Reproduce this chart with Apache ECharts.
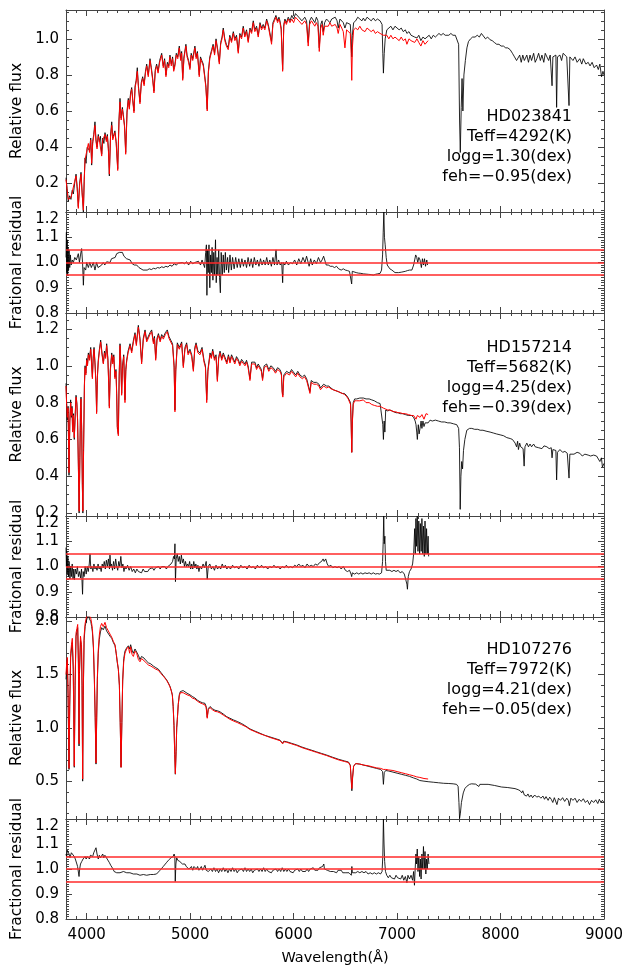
<!DOCTYPE html>
<html>
<head>
<meta charset="utf-8">
<script src="https://cdn.jsdelivr.net/npm/echarts@6/dist/echarts.min.js"></script>
<style>
html, body { margin: 0; padding: 0; background: #fff; }
#chart { width: 627px; height: 968px; }
</style>
</head>
<body>
<div id="chart"></div>
<script>
// ---- data: [wavelength (A), value] ----
// HD023841
const obs1 = [[3800,0.23],[3811,0.17],[3822,0.10],[3835,0.13],[3848,0.11],[3860,0.16],[3871,0.14],[3884,0.20],[3897,0.25],[3908,0.18],[3919,0.07],[3932,0.20],[3945,0.26],[3956,0.15],[3968,0.04],[3976,0.22],[3984,0.34],[3994,0.31],[4005,0.40],[4016,0.41],[4027,0.38],[4039,0.45],[4048,0.30],[4058,0.43],[4068,0.47],[4080,0.54],[4090,0.44],[4100,0.40],[4112,0.47],[4122,0.43],[4133,0.46],[4145,0.36],[4155,0.45],[4166,0.42],[4177,0.48],[4190,0.44],[4200,0.47],[4210,0.39],[4219,0.24],[4230,0.46],[4242,0.54],[4252,0.45],[4262,0.47],[4273,0.49],[4285,0.43],[4300,0.28],[4312,0.55],[4322,0.67],[4333,0.56],[4345,0.62],[4354,0.58],[4366,0.52],[4377,0.37],[4390,0.60],[4402,0.67],[4412,0.62],[4424,0.70],[4435,0.73],[4446,0.66],[4457,0.60],[4468,0.74],[4478,0.77],[4489,0.84],[4500,0.74],[4515,0.65],[4528,0.76],[4541,0.79],[4555,0.75],[4568,0.82],[4580,0.86],[4595,0.80],[4612,0.89],[4625,0.84],[4638,0.78],[4650,0.71],[4663,0.83],[4676,0.86],[4690,0.82],[4705,0.88],[4725,0.92],[4740,0.85],[4753,0.89],[4766,0.80],[4780,0.87],[4793,0.85],[4805,0.91],[4818,0.86],[4830,0.90],[4841,0.83],[4853,0.86],[4866,0.92],[4880,0.90],[4895,0.96],[4908,0.89],[4918,0.93],[4928,0.78],[4940,0.90],[4959,0.97],[4970,0.91],[4985,0.88],[4998,0.84],[5010,0.92],[5025,0.89],[5046,0.96],[5058,0.90],[5070,0.93],[5088,0.80],[5100,0.90],[5113,0.88],[5127,0.86],[5140,0.80],[5152,0.74],[5165,0.61],[5176,0.82],[5190,0.90],[5208,0.94],[5222,0.97],[5236,0.92],[5250,1.00],[5264,0.95],[5282,0.87],[5295,0.98],[5308,1.01],[5320,1.06],[5335,1.00],[5350,0.97],[5368,0.95],[5383,1.02],[5400,0.99],[5417,1.04],[5432,1.00],[5448,1.02],[5465,0.93],[5480,1.03],[5497,1.01],[5513,1.07],[5528,1.02],[5545,1.05],[5561,0.99],[5578,1.06],[5594,1.04],[5610,1.10],[5625,1.05],[5642,1.07],[5658,1.02],[5675,1.09],[5690,1.06],[5706,1.08],[5722,1.06],[5739,1.11],[5755,1.08],[5770,1.07],[5787,0.985],[5800,1.09],[5815,1.11],[5829,1.13],[5845,1.10],[5858,1.12],[5868,1.10],[5880,1.06],[5894,0.83],[5905,1.08],[5916,1.11],[5930,1.09],[5948,1.12],[5965,1.10],[5982,1.13],[6000,1.11],[6018,1.14],[6035,1.15],[6050,1.12],[6065,1.13],[6080,1.10],[6093,1.09],[6108,1.12],[6125,1.10],[6141,0.98],[6155,1.10],[6172,1.12],[6190,1.11],[6205,1.09],[6220,1.12],[6235,1.10],[6248,0.95],[6262,1.08],[6275,1.10],[6286,1.04],[6300,1.09],[6318,1.11],[6335,1.10],[6351,1.09],[6368,1.11],[6385,1.10],[6402,1.12],[6420,1.10],[6431,1.06],[6448,1.11],[6465,1.10],[6480,1.09],[6496,1.06],[6512,1.09],[6530,1.10],[6548,1.08],[6556,1.00],[6562,0.90],[6568,1.02],[6580,1.09],[6600,1.10],[6620,1.12],[6640,1.11],[6660,1.10],[6674,1.115],[6690,1.10],[6710,1.12],[6730,1.11],[6750,1.10],[6771,1.115],[6790,1.10],[6810,1.11],[6836,1.10],[6855,1.08],[6862,0.92],[6868,0.81],[6876,0.92],[6885,1.00],[6901,1.05],[6920,1.06],[6940,1.07],[6960,1.05],[6980,1.07],[6998,1.07],[7020,1.05],[7040,1.06],[7060,1.04],[7080,1.05],[7095,1.03],[7115,1.04],[7135,1.02],[7150,1.03],[7170,1.01],[7192,1.005],[7210,1.02],[7230,0.99],[7250,1.01],[7270,1.00],[7289,1.01],[7310,1.02],[7330,1.00],[7350,1.02],[7370,1.01],[7386,1.02],[7405,1.03],[7425,1.02],[7445,1.03],[7465,1.02],[7483,1.03],[7500,1.02],[7520,1.03],[7540,1.02],[7563,1.02],[7580,1.01],[7595,0.97],[7604,0.55],[7611,0.37],[7620,0.62],[7628,0.78],[7636,0.60],[7646,0.80],[7660,0.88],[7675,0.95],[7690,0.985],[7710,1.00],[7730,1.01],[7754,1.01],[7775,1.02],[7795,1.01],[7815,1.03],[7834,1.02],[7855,1.00],[7875,1.01],[7899,0.995],[7920,0.99],[7940,0.98],[7963,0.97],[7985,0.97],[8005,0.96],[8028,0.96],[8050,0.95],[8070,0.95],[8093,0.94],[8115,0.92],[8135,0.90],[8155,0.88],[8173,0.88],[8185,0.91],[8200,0.87],[8215,0.91],[8230,0.88],[8254,0.91],[8270,0.87],[8285,0.91],[8300,0.88],[8320,0.92],[8335,0.87],[8351,0.89],[8368,0.92],[8385,0.88],[8400,0.91],[8418,0.87],[8432,0.92],[8448,0.91],[8465,0.88],[8480,0.91],[8492,0.90],[8498,0.74],[8506,0.90],[8520,0.89],[8535,0.91],[8542,0.62],[8550,0.90],[8574,0.91],[8590,0.88],[8605,0.92],[8622,0.92],[8640,0.90],[8655,0.91],[8662,0.63],[8670,0.90],[8686,0.91],[8700,0.88],[8720,0.90],[8740,0.87],[8766,0.89],[8785,0.86],[8800,0.89],[8825,0.86],[8847,0.87],[8865,0.85],[8885,0.87],[8905,0.84],[8928,0.855],[8945,0.83],[8960,0.86],[8976,0.79],[8990,0.82],[9000,0.80]];
const mod1 = [[3800,0.22],[3811,0.16],[3822,0.11],[3835,0.12],[3848,0.12],[3860,0.15],[3871,0.15],[3884,0.21],[3897,0.24],[3908,0.17],[3919,0.06],[3932,0.19],[3945,0.25],[3956,0.14],[3968,0.05],[3976,0.21],[3984,0.33],[3994,0.32],[4005,0.39],[4016,0.42],[4027,0.37],[4039,0.44],[4048,0.31],[4058,0.42],[4068,0.46],[4080,0.52],[4090,0.43],[4100,0.39],[4112,0.46],[4122,0.44],[4133,0.45],[4145,0.35],[4155,0.44],[4166,0.43],[4177,0.47],[4190,0.43],[4200,0.46],[4210,0.38],[4219,0.25],[4230,0.45],[4242,0.52],[4252,0.44],[4262,0.46],[4273,0.48],[4285,0.42],[4300,0.27],[4312,0.54],[4322,0.65],[4333,0.55],[4345,0.61],[4354,0.57],[4366,0.51],[4377,0.36],[4390,0.59],[4402,0.66],[4412,0.61],[4424,0.69],[4435,0.72],[4446,0.65],[4457,0.59],[4468,0.73],[4478,0.76],[4489,0.82],[4500,0.73],[4515,0.64],[4528,0.75],[4541,0.78],[4555,0.74],[4568,0.81],[4580,0.85],[4595,0.79],[4612,0.88],[4625,0.83],[4638,0.77],[4650,0.70],[4663,0.82],[4676,0.85],[4690,0.81],[4705,0.87],[4725,0.91],[4740,0.84],[4753,0.88],[4766,0.79],[4780,0.86],[4793,0.84],[4805,0.90],[4818,0.85],[4830,0.89],[4841,0.82],[4853,0.85],[4866,0.91],[4880,0.89],[4895,0.95],[4908,0.88],[4918,0.92],[4928,0.77],[4940,0.89],[4959,0.96],[4970,0.90],[4985,0.87],[4998,0.83],[5010,0.91],[5025,0.88],[5046,0.95],[5058,0.89],[5070,0.92],[5088,0.79],[5100,0.89],[5113,0.87],[5127,0.85],[5140,0.79],[5152,0.73],[5165,0.60],[5176,0.81],[5190,0.89],[5208,0.93],[5222,0.96],[5236,0.91],[5250,0.99],[5264,0.94],[5282,0.86],[5295,0.97],[5308,1.00],[5320,1.05],[5335,0.99],[5350,0.96],[5368,0.94],[5383,1.01],[5400,0.98],[5417,1.03],[5432,0.99],[5448,1.01],[5465,0.92],[5480,1.02],[5497,1.00],[5513,1.06],[5528,1.01],[5545,1.04],[5561,0.98],[5578,1.05],[5594,1.03],[5610,1.09],[5625,1.04],[5642,1.06],[5658,1.01],[5675,1.08],[5690,1.05],[5706,1.07],[5722,1.05],[5739,1.10],[5755,1.07],[5770,1.06],[5787,0.97],[5800,1.08],[5815,1.10],[5829,1.12],[5845,1.09],[5858,1.11],[5868,1.09],[5880,1.05],[5894,0.82],[5905,1.07],[5916,1.10],[5930,1.08],[5948,1.11],[5965,1.09],[5982,1.11],[6000,1.09],[6018,1.12],[6035,1.13],[6050,1.10],[6065,1.11],[6080,1.08],[6093,1.07],[6108,1.10],[6125,1.08],[6141,0.96],[6155,1.08],[6172,1.10],[6190,1.09],[6205,1.07],[6220,1.09],[6235,1.07],[6248,0.93],[6262,1.06],[6275,1.08],[6286,1.02],[6300,1.07],[6318,1.08],[6335,1.07],[6351,1.09],[6368,1.07],[6385,1.06],[6402,1.08],[6420,1.06],[6431,1.03],[6448,1.08],[6465,1.06],[6480,1.04],[6496,0.95],[6512,1.05],[6530,1.06],[6548,1.03],[6556,0.92],[6562,0.77],[6568,0.95],[6580,1.05],[6600,1.06],[6620,1.05],[6640,1.07],[6660,1.05],[6674,1.06],[6690,1.04],[6710,1.06],[6730,1.05],[6750,1.04],[6771,1.05],[6790,1.03],[6810,1.04],[6836,1.03],[6855,1.02],[6868,1.02],[6885,1.01],[6901,1.02],[6920,1.00],[6940,1.02],[6960,1.00],[6980,1.01],[6998,1.01],[7020,0.99],[7040,1.01],[7060,0.99],[7080,1.00],[7095,0.97],[7115,1.00],[7135,0.99],[7150,1.00],[7170,0.98],[7192,1.00],[7210,0.98],[7230,0.96],[7250,0.99],[7270,0.97],[7289,0.98],[7300,0.99]];
const res1 = [[3800,1.02],[3804,1.12],[3808,0.96],[3812,1.09],[3816,0.95],[3820,1.06],[3825,0.97],[3830,1.05],[3836,0.98],[3842,1.03],[3850,0.99],[3860,1.01],[3871,1.00],[3885,1.02],[3900,1.01],[3919,1.035],[3930,1.0],[3940,1.03],[3951,1.055],[3960,1.0],[3968,0.91],[3975,0.98],[3990,0.97],[4000,1.00],[4016,0.98],[4030,1.0],[4045,0.98],[4064,1.0],[4080,0.97],[4095,1.0],[4110,0.98],[4129,0.977],[4145,0.99],[4160,1.0],[4175,0.99],[4193,1.003],[4210,1.01],[4225,1.0],[4240,1.015],[4258,1.017],[4275,1.02],[4290,1.035],[4305,1.03],[4316,1.04],[4330,1.035],[4345,1.04],[4360,1.025],[4371,1.03],[4385,1.015],[4400,1.01],[4420,1.01],[4440,0.995],[4460,0.99],[4483,0.99],[4505,0.98],[4525,0.975],[4545,0.97],[4564,0.973],[4585,0.97],[4605,0.975],[4625,0.972],[4645,0.977],[4665,0.975],[4685,0.98],[4705,0.978],[4725,0.983],[4745,0.98],[4765,0.985],[4785,0.982],[4805,0.99],[4825,0.985],[4845,0.995],[4865,0.99],[4886,0.997],[4905,0.99],[4925,1.0],[4945,0.995],[4966,1.003],[4985,0.99],[5005,1.005],[5025,0.995],[5045,1.0],[5063,0.997],[5080,1.005],[5100,0.99],[5115,1.01],[5127,1.01],[5140,0.98],[5150,1.04],[5157,1.07],[5162,0.87],[5168,1.05],[5175,0.96],[5182,1.07],[5190,0.90],[5198,1.03],[5205,0.96],[5212,1.06],[5220,0.93],[5228,1.04],[5236,0.95],[5245,1.09],[5252,0.92],[5260,1.02],[5268,0.95],[5276,1.05],[5284,0.94],[5292,0.88],[5300,1.04],[5310,0.95],[5320,1.03],[5330,0.96],[5340,1.04],[5350,0.97],[5362,1.02],[5372,0.96],[5385,1.03],[5398,0.97],[5410,1.02],[5425,0.975],[5440,1.02],[5455,0.98],[5470,1.015],[5485,0.98],[5500,1.015],[5515,0.985],[5530,1.01],[5545,0.98],[5560,1.02],[5575,0.985],[5590,1.015],[5605,0.98],[5620,1.02],[5635,0.99],[5650,1.01],[5665,0.985],[5680,1.015],[5695,0.99],[5710,1.01],[5725,0.99],[5740,1.02],[5755,0.99],[5770,1.01],[5785,0.985],[5800,1.02],[5815,0.99],[5830,1.05],[5840,0.99],[5855,1.01],[5870,0.99],[5885,1.0],[5894,0.92],[5900,1.0],[5915,0.99],[5930,1.005],[5950,0.99],[5970,1.0],[5990,0.995],[6010,1.01],[6030,0.99],[6050,1.015],[6070,0.995],[6090,1.02],[6110,1.0],[6125,1.025],[6141,1.03],[6150,0.985],[6165,1.015],[6180,0.99],[6200,1.01],[6220,0.995],[6240,1.02],[6260,1.0],[6275,1.01],[6290,1.025],[6300,1.02],[6315,0.99],[6335,0.99],[6355,0.985],[6375,0.985],[6395,0.98],[6415,0.985],[6435,0.975],[6460,0.97],[6480,0.975],[6500,0.97],[6520,0.968],[6540,0.965],[6555,0.97],[6561,0.915],[6567,0.965],[6585,0.962],[6605,0.96],[6625,0.958],[6650,0.957],[6674,0.955],[6700,0.954],[6725,0.953],[6750,0.952],[6770,0.95],[6790,0.953],[6810,0.955],[6836,0.957],[6850,0.97],[6860,1.03],[6866,1.12],[6872,1.2],[6878,1.1],[6885,1.07],[6895,1.02],[6905,0.99],[6915,0.985],[6930,0.975],[6950,0.97],[6965,0.965],[6980,0.96],[6997,0.957],[7015,0.96],[7030,0.958],[7045,0.962],[7062,0.963],[7080,0.965],[7100,0.968],[7120,0.97],[7143,0.97],[7160,0.99],[7170,1.01],[7180,1.03],[7190,1.02],[7200,1.0],[7210,1.02],[7222,1.01],[7235,0.98],[7245,1.015],[7255,0.99],[7265,1.015],[7275,0.985],[7287,1.01],[7295,0.99]];

// HD157214
const obs2 = [[3800,0.905],[3806,0.80],[3813,0.705],[3820,0.78],[3829,0.405],[3837,0.70],[3845,0.815],[3852,0.72],[3858,0.78],[3864,0.65],[3872,0.74],[3880,0.60],[3890,0.75],[3897,0.84],[3905,0.80],[3912,0.70],[3920,0.45],[3927,0.20],[3934,0.50],[3940,0.78],[3945,0.83],[3952,0.65],[3958,0.35],[3963,0.20],[3970,0.55],[3978,0.90],[3984,1.0],[3992,0.96],[4000,1.04],[4008,1.01],[4016,1.07],[4027,1.04],[4039,1.10],[4047,1.02],[4055,0.94],[4063,1.05],[4071,1.10],[4080,1.02],[4090,0.90],[4096,0.75],[4104,0.95],[4112,1.03],[4123,1.09],[4135,1.14],[4148,1.07],[4161,1.015],[4172,1.08],[4183,1.05],[4193,1.12],[4205,1.04],[4212,0.92],[4219,0.78],[4228,0.98],[4242,1.07],[4252,1.02],[4262,1.06],[4273,0.94],[4283,0.98],[4290,0.85],[4296,0.67],[4306,0.63],[4314,0.95],[4322,1.12],[4330,1.02],[4338,0.85],[4346,1.00],[4358,1.06],[4370,0.815],[4378,0.98],[4386,1.03],[4400,1.08],[4419,1.12],[4435,1.08],[4452,1.14],[4467,1.18],[4480,1.12],[4499,1.22],[4515,1.15],[4531,1.02],[4547,1.15],[4564,1.195],[4580,1.14],[4596,1.15],[4612,1.18],[4628,1.195],[4645,1.13],[4655,1.16],[4667,1.04],[4680,1.15],[4693,1.175],[4710,1.14],[4725,1.17],[4741,1.155],[4760,1.18],[4779,1.195],[4795,1.16],[4812,1.14],[4830,1.12],[4845,1.00],[4853,0.76],[4861,0.98],[4876,1.125],[4895,1.10],[4918,1.13],[4934,1.0],[4950,1.10],[4966,1.125],[4980,1.07],[4998,1.09],[5015,1.06],[5031,0.98],[5045,1.10],[5057,1.125],[5075,1.08],[5095,1.07],[5115,1.10],[5134,1.03],[5148,1.00],[5160,0.815],[5172,0.98],[5192,1.07],[5205,1.05],[5218,1.09],[5235,1.04],[5250,1.06],[5263,0.925],[5276,1.05],[5289,1.08],[5305,1.04],[5320,1.07],[5337,1.06],[5355,1.02],[5370,1.06],[5385,1.025],[5400,1.06],[5417,1.05],[5432,1.02],[5448,1.05],[5465,1.035],[5480,1.01],[5497,1.035],[5513,1.03],[5530,1.01],[5545,1.03],[5560,1.00],[5578,0.93],[5594,1.02],[5610,1.01],[5626,1.02],[5642,0.99],[5658,1.01],[5674,1.0],[5688,0.98],[5700,0.93],[5715,1.00],[5739,1.01],[5760,0.98],[5780,1.00],[5803,0.99],[5825,0.97],[5845,0.99],[5868,0.98],[5882,0.96],[5890,0.86],[5896,0.84],[5905,0.95],[5932,0.97],[5960,0.96],[5980,0.98],[5997,0.97],[6020,0.95],[6040,0.97],[6061,0.95],[6085,0.94],[6105,0.95],[6126,0.93],[6145,0.92],[6158,0.86],[6170,0.92],[6195,0.91],[6222,0.91],[6245,0.90],[6260,0.88],[6270,0.88],[6290,0.90],[6319,0.89],[6340,0.89],[6360,0.88],[6383,0.87],[6400,0.88],[6431,0.86],[6448,0.87],[6470,0.85],[6490,0.85],[6510,0.84],[6528,0.825],[6550,0.80],[6556,0.70],[6562,0.53],[6568,0.70],[6576,0.80],[6590,0.82],[6610,0.82],[6640,0.825],[6674,0.825],[6700,0.82],[6730,0.82],[6755,0.815],[6780,0.81],[6810,0.80],[6836,0.795],[6855,0.79],[6862,0.68],[6868,0.60],[6875,0.70],[6882,0.64],[6890,0.76],[6910,0.755],[6930,0.76],[6948,0.75],[6970,0.75],[6990,0.745],[7010,0.745],[7030,0.74],[7055,0.74],[7080,0.735],[7110,0.73],[7140,0.73],[7160,0.72],[7175,0.70],[7183,0.68],[7190,0.64],[7196,0.60],[7205,0.68],[7213,0.63],[7222,0.66],[7232,0.70],[7240,0.66],[7250,0.70],[7260,0.67],[7271,0.69],[7285,0.70],[7300,0.69],[7319,0.705],[7340,0.70],[7370,0.705],[7400,0.70],[7430,0.695],[7460,0.695],[7490,0.69],[7513,0.69],[7545,0.685],[7577,0.68],[7595,0.66],[7603,0.555],[7610,0.22],[7617,0.40],[7625,0.48],[7633,0.44],[7642,0.54],[7655,0.60],[7674,0.65],[7700,0.66],[7722,0.66],[7750,0.655],[7780,0.655],[7803,0.65],[7830,0.65],[7860,0.645],[7899,0.64],[7930,0.635],[7960,0.63],[7996,0.625],[8030,0.62],[8060,0.61],[8093,0.605],[8115,0.60],[8130,0.59],[8141,0.58],[8155,0.56],[8165,0.59],[8173,0.545],[8185,0.58],[8195,0.56],[8206,0.57],[8218,0.55],[8228,0.455],[8236,0.56],[8254,0.58],[8270,0.56],[8285,0.575],[8300,0.56],[8320,0.575],[8335,0.56],[8351,0.57],[8368,0.555],[8385,0.565],[8400,0.55],[8420,0.565],[8448,0.56],[8470,0.55],[8490,0.555],[8498,0.50],[8506,0.545],[8525,0.55],[8535,0.54],[8542,0.38],[8550,0.53],[8574,0.545],[8600,0.53],[8622,0.535],[8645,0.525],[8655,0.53],[8662,0.39],[8670,0.52],[8686,0.525],[8710,0.52],[8740,0.53],[8766,0.525],[8790,0.51],[8815,0.52],[8847,0.515],[8870,0.51],[8900,0.515],[8928,0.51],[8945,0.505],[8960,0.48],[8975,0.50],[8985,0.45],[9000,0.47]];
const mod2 = [[3800,0.89],[3806,0.79],[3813,0.72],[3820,0.77],[3829,0.42],[3837,0.69],[3845,0.80],[3852,0.73],[3858,0.77],[3864,0.64],[3872,0.73],[3880,0.61],[3890,0.74],[3897,0.83],[3905,0.79],[3912,0.71],[3920,0.44],[3927,0.21],[3934,0.49],[3940,0.77],[3945,0.82],[3952,0.64],[3958,0.36],[3963,0.21],[3970,0.54],[3978,0.89],[3984,0.99],[3992,0.95],[4000,1.03],[4008,1.00],[4016,1.06],[4027,1.03],[4039,1.09],[4047,1.01],[4055,0.93],[4063,1.04],[4071,1.09],[4080,1.01],[4090,0.89],[4096,0.74],[4104,0.94],[4112,1.02],[4123,1.08],[4135,1.13],[4148,1.06],[4161,1.01],[4172,1.07],[4183,1.04],[4193,1.11],[4205,1.03],[4212,0.91],[4219,0.77],[4228,0.97],[4242,1.06],[4252,1.01],[4262,1.05],[4273,0.93],[4283,0.97],[4290,0.84],[4296,0.66],[4306,0.62],[4314,0.94],[4322,1.11],[4330,1.01],[4338,0.84],[4346,0.99],[4358,1.05],[4370,0.80],[4378,0.97],[4386,1.02],[4400,1.07],[4419,1.11],[4435,1.07],[4452,1.13],[4467,1.17],[4480,1.11],[4499,1.21],[4515,1.14],[4531,1.01],[4547,1.14],[4564,1.185],[4580,1.13],[4596,1.14],[4612,1.17],[4628,1.185],[4645,1.12],[4655,1.15],[4667,1.03],[4680,1.14],[4693,1.165],[4710,1.13],[4725,1.16],[4741,1.145],[4760,1.17],[4779,1.185],[4795,1.15],[4812,1.13],[4830,1.11],[4845,0.99],[4853,0.75],[4861,0.97],[4876,1.115],[4895,1.09],[4918,1.12],[4934,0.99],[4950,1.09],[4966,1.115],[4980,1.06],[4998,1.08],[5015,1.05],[5031,0.97],[5045,1.09],[5057,1.115],[5075,1.07],[5095,1.06],[5115,1.09],[5134,1.02],[5148,0.99],[5160,0.80],[5172,0.97],[5192,1.06],[5205,1.04],[5218,1.08],[5235,1.03],[5250,1.05],[5263,0.915],[5276,1.04],[5289,1.07],[5305,1.03],[5320,1.06],[5337,1.05],[5355,1.01],[5370,1.05],[5385,1.015],[5400,1.05],[5417,1.04],[5432,1.01],[5448,1.04],[5465,1.025],[5480,1.00],[5497,1.025],[5513,1.02],[5530,1.00],[5545,1.02],[5560,0.99],[5578,0.92],[5594,1.01],[5610,1.00],[5626,1.01],[5642,0.98],[5658,1.00],[5674,0.99],[5688,0.97],[5700,0.92],[5715,0.99],[5739,1.00],[5760,0.97],[5780,0.99],[5803,0.98],[5825,0.96],[5845,0.98],[5868,0.97],[5882,0.95],[5890,0.85],[5896,0.83],[5905,0.94],[5932,0.96],[5960,0.95],[5980,0.97],[5997,0.96],[6020,0.94],[6040,0.96],[6061,0.94],[6085,0.93],[6105,0.94],[6126,0.92],[6145,0.91],[6158,0.85],[6170,0.91],[6195,0.90],[6222,0.90],[6245,0.89],[6260,0.87],[6270,0.87],[6290,0.89],[6319,0.88],[6340,0.885],[6360,0.875],[6383,0.87],[6400,0.875],[6431,0.86],[6448,0.865],[6470,0.85],[6490,0.845],[6510,0.835],[6528,0.82],[6550,0.79],[6556,0.69],[6562,0.53],[6568,0.69],[6576,0.79],[6590,0.81],[6610,0.81],[6640,0.81],[6674,0.815],[6700,0.80],[6730,0.80],[6755,0.79],[6780,0.785],[6810,0.78],[6836,0.78],[6855,0.775],[6868,0.77],[6890,0.765],[6910,0.76],[6930,0.76],[6948,0.755],[6970,0.75],[6990,0.75],[7010,0.745],[7030,0.745],[7055,0.74],[7080,0.74],[7110,0.735],[7140,0.73],[7160,0.73],[7175,0.72],[7183,0.71],[7196,0.73],[7205,0.74],[7222,0.72],[7240,0.735],[7260,0.71],[7280,0.74],[7300,0.735]];
const res2 = [[3800,1.075],[3804,1.0],[3808,1.06],[3812,0.97],[3818,1.04],[3824,0.96],[3830,1.02],[3838,0.95],[3845,1.0],[3852,0.96],[3860,1.01],[3868,0.95],[3875,0.99],[3882,0.948],[3890,0.99],[3900,0.97],[3910,1.0],[3920,0.96],[3930,0.98],[3940,0.955],[3950,0.99],[3960,0.89],[3966,0.98],[3975,0.96],[3985,1.0],[3995,0.97],[4005,1.0],[4015,0.98],[4025,1.01],[4032,1.05],[4040,0.99],[4050,1.0],[4060,0.98],[4070,1.01],[4080,0.99],[4090,1.0],[4100,0.985],[4110,1.01],[4120,0.99],[4130,1.0],[4140,0.98],[4150,1.01],[4160,0.995],[4170,1.02],[4180,0.99],[4190,1.025],[4200,1.0],[4210,1.03],[4220,0.99],[4225,1.045],[4232,1.0],[4240,1.01],[4250,0.985],[4260,1.02],[4270,0.99],[4280,1.03],[4290,1.0],[4300,0.985],[4310,1.02],[4320,1.0],[4330,1.04],[4340,0.995],[4350,1.01],[4360,0.98],[4370,1.0],[4380,0.99],[4395,1.005],[4410,0.985],[4425,1.0],[4440,0.98],[4455,0.99],[4470,0.975],[4485,0.99],[4500,0.98],[4515,0.985],[4530,0.975],[4545,0.99],[4560,0.98],[4575,0.985],[4590,0.98],[4605,0.99],[4620,0.985],[4635,0.995],[4650,0.985],[4665,0.995],[4680,0.99],[4695,1.0],[4710,0.99],[4725,1.0],[4740,0.995],[4755,1.0],[4770,0.99],[4785,1.0],[4800,0.995],[4815,1.01],[4830,1.02],[4840,1.04],[4848,1.03],[4853,1.09],[4858,0.94],[4865,1.03],[4875,1.05],[4885,1.02],[4895,1.04],[4905,1.01],[4915,1.045],[4925,1.015],[4935,1.03],[4945,1.0],[4955,1.02],[4965,1.0],[4975,1.01],[4985,1.0],[4995,1.02],[5005,0.99],[5015,1.01],[5025,0.99],[5035,1.02],[5045,0.995],[5055,1.01],[5065,0.99],[5075,1.005],[5085,0.98],[5095,1.0],[5110,0.99],[5125,1.01],[5140,0.995],[5155,1.02],[5165,0.95],[5175,1.0],[5190,1.01],[5205,0.99],[5220,1.0],[5235,0.985],[5250,1.005],[5265,0.99],[5280,1.0],[5295,0.99],[5310,1.01],[5325,0.995],[5340,1.005],[5355,0.99],[5370,1.0],[5390,0.99],[5410,1.005],[5430,0.995],[5450,1.0],[5470,0.99],[5490,1.005],[5510,0.995],[5530,1.0],[5550,0.99],[5570,1.005],[5590,0.995],[5610,1.0],[5630,0.99],[5650,1.005],[5670,0.995],[5690,1.005],[5710,0.995],[5730,1.0],[5750,0.99],[5770,1.0],[5790,0.995],[5810,1.005],[5830,0.995],[5850,1.0],[5870,0.99],[5890,1.0],[5910,0.995],[5930,1.005],[5950,0.995],[5970,1.0],[5990,0.995],[6010,1.005],[6030,1.0],[6050,1.01],[6070,1.0],[6090,1.005],[6110,0.995],[6130,1.01],[6150,1.0],[6170,1.005],[6190,1.0],[6210,1.01],[6230,1.005],[6250,1.015],[6270,1.02],[6285,1.03],[6295,1.02],[6310,1.03],[6325,1.01],[6340,1.0],[6360,1.005],[6380,0.995],[6400,1.0],[6420,0.995],[6440,1.0],[6460,0.99],[6480,1.0],[6500,0.985],[6520,0.98],[6540,0.985],[6555,0.97],[6561,0.96],[6568,0.975],[6590,0.97],[6610,0.975],[6630,0.97],[6650,0.975],[6670,0.97],[6690,0.975],[6710,0.972],[6730,0.975],[6750,0.97],[6770,0.975],[6790,0.97],[6810,0.972],[6830,0.97],[6850,0.975],[6860,1.02],[6866,1.1],[6871,1.2],[6876,1.09],[6882,1.12],[6888,1.02],[6895,0.985],[6910,0.98],[6930,0.985],[6950,0.98],[6970,0.985],[6990,0.98],[7010,0.985],[7030,0.975],[7050,0.98],[7070,0.97],[7085,0.965],[7095,0.93],[7100,0.91],[7108,0.96],[7120,0.98],[7135,0.99],[7150,1.01],[7160,1.05],[7170,1.15],[7176,1.05],[7182,1.19],[7188,1.08],[7195,1.2],[7202,1.06],[7210,1.18],[7218,1.05],[7225,1.17],[7233,1.06],[7240,1.19],[7248,1.05],[7255,1.16],[7263,1.04],[7270,1.18],[7278,1.05],[7285,1.15],[7292,1.05],[7300,1.12],[7305,1.04]];

// HD107276
const obs3 = [[3800,1.455],[3806,1.55],[3813,1.64],[3820,1.30],[3829,0.61],[3836,1.20],[3845,1.66],[3853,1.74],[3861,1.80],[3870,1.55],[3880,0.63],[3888,1.40],[3897,1.86],[3905,1.90],[3913,1.94],[3920,1.60],[3926,0.83],[3930,1.50],[3940,1.82],[3950,1.75],[3955,1.40],[3961,0.50],[3967,1.30],[3975,1.82],[3985,1.95],[3993,1.99],[4005,2.03],[4016,2.06],[4027,2.02],[4039,2.0],[4048,1.95],[4055,1.90],[4065,1.75],[4074,1.455],[4082,1.10],[4090,0.66],[4097,1.10],[4103,1.45],[4112,1.70],[4122,1.83],[4133,1.90],[4145,1.94],[4160,1.92],[4177,1.955],[4192,1.91],[4209,1.90],[4225,1.86],[4242,1.84],[4258,1.80],[4274,1.77],[4285,1.70],[4296,1.61],[4306,1.55],[4316,1.40],[4324,1.05],[4332,0.63],[4340,1.05],[4348,1.45],[4358,1.65],[4370,1.72],[4386,1.75],[4403,1.77],[4415,1.74],[4425,1.78],[4438,1.73],[4451,1.70],[4467,1.74],[4483,1.73],[4500,1.68],[4515,1.64],[4530,1.67],[4554,1.655],[4575,1.63],[4596,1.61],[4620,1.60],[4644,1.58],[4668,1.565],[4693,1.55],[4717,1.52],[4741,1.49],[4757,1.47],[4773,1.45],[4790,1.42],[4805,1.39],[4818,1.35],[4828,1.31],[4836,1.20],[4844,1.02],[4851,0.75],[4857,0.565],[4864,0.78],[4870,1.00],[4876,1.08],[4885,1.22],[4895,1.31],[4905,1.34],[4918,1.355],[4932,1.35],[4950,1.34],[4970,1.325],[4998,1.31],[5020,1.295],[5046,1.28],[5070,1.26],[5095,1.245],[5120,1.235],[5143,1.23],[5155,1.20],[5165,1.10],[5175,1.18],[5192,1.20],[5215,1.18],[5240,1.165],[5265,1.16],[5289,1.15],[5320,1.13],[5353,1.105],[5385,1.09],[5417,1.075],[5455,1.06],[5498,1.04],[5540,1.015],[5578,0.99],[5625,0.97],[5674,0.95],[5720,0.93],[5771,0.915],[5820,0.90],[5868,0.885],[5885,0.875],[5894,0.855],[5905,0.875],[5932,0.87],[5980,0.855],[6029,0.84],[6080,0.82],[6126,0.805],[6175,0.79],[6222,0.775],[6270,0.76],[6319,0.745],[6375,0.725],[6432,0.706],[6490,0.69],[6530,0.68],[6548,0.65],[6556,0.52],[6563,0.41],[6570,0.53],[6580,0.64],[6600,0.665],[6640,0.66],[6680,0.65],[6720,0.64],[6760,0.63],[6800,0.62],[6840,0.61],[6860,0.59],[6868,0.47],[6876,0.58],[6890,0.60],[6920,0.595],[6960,0.585],[7000,0.575],[7040,0.565],[7080,0.555],[7120,0.545],[7160,0.53],[7190,0.52],[7220,0.506],[7260,0.50],[7300,0.495],[7350,0.49],[7400,0.485],[7450,0.48],[7500,0.478],[7542,0.475],[7575,0.47],[7590,0.45],[7598,0.30],[7604,0.15],[7612,0.20],[7622,0.30],[7640,0.39],[7655,0.43],[7672,0.45],[7700,0.47],[7720,0.475],[7760,0.472],[7790,0.45],[7800,0.47],[7840,0.47],[7880,0.47],[7940,0.46],[8010,0.445],[8070,0.44],[8140,0.43],[8170,0.42],[8190,0.41],[8205,0.39],[8215,0.41],[8230,0.37],[8251,0.36],[8265,0.38],[8280,0.35],[8295,0.37],[8310,0.345],[8330,0.37],[8350,0.35],[8370,0.36],[8390,0.34],[8410,0.36],[8425,0.33],[8440,0.355],[8460,0.32],[8475,0.35],[8490,0.33],[8505,0.30],[8520,0.345],[8535,0.33],[8545,0.28],[8560,0.34],[8580,0.32],[8600,0.345],[8620,0.31],[8640,0.34],[8655,0.32],[8665,0.27],[8680,0.34],[8700,0.32],[8720,0.34],[8740,0.30],[8760,0.33],[8780,0.31],[8800,0.335],[8820,0.30],[8840,0.32],[8860,0.28],[8880,0.32],[8900,0.30],[8920,0.325],[8940,0.29],[8955,0.33],[8970,0.30],[8985,0.32],[9000,0.30]];
const mod3 = [[3800,1.50],[3806,1.60],[3813,1.66],[3820,1.32],[3829,0.62],[3836,1.22],[3845,1.70],[3853,1.78],[3861,1.84],[3870,1.58],[3880,0.64],[3888,1.42],[3897,1.89],[3905,1.93],[3913,1.97],[3920,1.62],[3926,0.85],[3930,1.52],[3940,1.86],[3950,1.78],[3955,1.42],[3961,0.52],[3967,1.32],[3975,1.86],[3985,1.98],[3993,2.02],[4005,2.06],[4016,2.08],[4027,2.05],[4039,2.03],[4048,1.98],[4055,1.93],[4065,1.77],[4074,1.47],[4082,1.12],[4090,0.67],[4097,1.12],[4103,1.47],[4112,1.73],[4122,1.87],[4133,1.95],[4145,1.98],[4160,1.95],[4177,1.99],[4192,1.94],[4209,1.93],[4225,1.88],[4242,1.85],[4258,1.81],[4274,1.78],[4285,1.70],[4296,1.62],[4306,1.55],[4316,1.40],[4324,1.05],[4332,0.63],[4340,1.05],[4348,1.44],[4358,1.62],[4370,1.70],[4386,1.74],[4403,1.76],[4415,1.70],[4425,1.76],[4438,1.69],[4451,1.67],[4467,1.72],[4483,1.70],[4500,1.64],[4515,1.62],[4530,1.65],[4554,1.63],[4575,1.61],[4596,1.59],[4620,1.58],[4644,1.565],[4668,1.55],[4693,1.54],[4717,1.51],[4741,1.485],[4757,1.465],[4773,1.445],[4790,1.415],[4805,1.385],[4818,1.345],[4828,1.305],[4836,1.20],[4844,1.02],[4851,0.75],[4857,0.57],[4864,0.78],[4870,1.00],[4876,1.08],[4885,1.22],[4895,1.30],[4905,1.33],[4918,1.34],[4932,1.33],[4950,1.325],[4970,1.31],[4998,1.30],[5020,1.28],[5046,1.27],[5070,1.25],[5095,1.235],[5120,1.225],[5143,1.215],[5155,1.19],[5165,1.09],[5175,1.17],[5192,1.19],[5215,1.17],[5240,1.155],[5265,1.15],[5289,1.14],[5320,1.12],[5353,1.10],[5385,1.08],[5417,1.065],[5455,1.05],[5498,1.03],[5540,1.01],[5578,0.985],[5625,0.965],[5674,0.945],[5720,0.93],[5771,0.91],[5820,0.895],[5868,0.88],[5885,0.87],[5894,0.85],[5905,0.87],[5932,0.865],[5980,0.85],[6029,0.835],[6080,0.815],[6126,0.80],[6175,0.785],[6222,0.77],[6270,0.755],[6319,0.74],[6375,0.72],[6432,0.70],[6490,0.685],[6530,0.675],[6548,0.645],[6556,0.53],[6563,0.43],[6570,0.54],[6580,0.64],[6600,0.665],[6640,0.66],[6680,0.65],[6720,0.645],[6760,0.635],[6800,0.625],[6840,0.62],[6868,0.61],[6890,0.61],[6920,0.605],[6960,0.60],[7000,0.59],[7040,0.58],[7080,0.57],[7120,0.56],[7160,0.55],[7190,0.54],[7220,0.535],[7260,0.525],[7300,0.52]];
const res3 = [[3800,1.06],[3806,1.05],[3812,1.075],[3822,1.08],[3830,1.06],[3838,1.045],[3845,1.05],[3852,1.065],[3860,1.06],[3871,1.07],[3880,1.05],[3890,1.04],[3897,1.035],[3905,1.02],[3912,1.01],[3919,1.01],[3926,0.97],[3932,1.0],[3940,1.02],[3952,1.03],[3965,1.04],[3975,1.035],[3984,1.05],[3995,1.04],[4005,1.05],[4016,1.05],[4027,1.04],[4036,1.055],[4048,1.06],[4058,1.05],[4068,1.065],[4080,1.07],[4090,1.085],[4100,1.06],[4112,1.04],[4122,1.055],[4133,1.045],[4145,1.05],[4155,1.06],[4165,1.045],[4176,1.055],[4187,1.05],[4198,1.04],[4210,1.035],[4220,1.025],[4232,1.015],[4242,1.01],[4255,1.0],[4265,0.99],[4275,0.995],[4290,0.985],[4305,0.99],[4322,0.985],[4340,0.98],[4355,0.99],[4370,0.982],[4387,0.985],[4400,0.98],[4418,0.985],[4435,0.977],[4451,0.98],[4468,0.975],[4485,0.98],[4500,0.972],[4515,0.975],[4530,0.97],[4548,0.978],[4565,0.972],[4580,0.975],[4598,0.97],[4615,0.978],[4630,0.975],[4645,0.978],[4660,0.982],[4675,0.98],[4690,0.988],[4709,0.995],[4725,1.0],[4740,1.01],[4757,1.015],[4770,1.025],[4780,1.02],[4790,1.035],[4805,1.03],[4815,1.045],[4822,1.04],[4835,1.05],[4845,1.06],[4852,1.05],[4856,0.95],[4862,1.02],[4870,1.045],[4880,1.035],[4890,1.04],[4900,1.03],[4912,1.035],[4925,1.02],[4938,1.025],[4950,1.02],[4962,1.01],[4975,1.015],[4988,1.0],[4999,1.0],[5012,1.01],[5025,0.995],[5037,1.01],[5047,1.015],[5060,1.0],[5072,1.01],[5085,0.995],[5095,1.0],[5108,1.01],[5120,0.995],[5132,1.005],[5143,1.015],[5155,0.995],[5165,1.0],[5175,0.99],[5185,0.995],[5200,1.0],[5215,0.99],[5230,1.005],[5245,0.99],[5260,1.0],[5275,0.985],[5290,1.0],[5305,0.99],[5320,1.005],[5335,0.99],[5350,1.0],[5365,0.985],[5380,1.0],[5395,0.99],[5410,1.005],[5425,0.99],[5440,1.0],[5455,0.985],[5470,0.995],[5485,0.99],[5500,1.0],[5515,0.99],[5530,1.005],[5545,0.99],[5560,1.0],[5575,0.99],[5590,1.0],[5605,0.985],[5620,0.995],[5635,0.99],[5650,1.0],[5665,0.99],[5680,1.0],[5695,0.99],[5710,1.005],[5725,0.99],[5740,1.0],[5755,0.99],[5770,0.995],[5785,0.985],[5800,0.995],[5815,0.99],[5830,1.0],[5845,0.99],[5860,1.0],[5875,0.99],[5890,1.005],[5905,0.99],[5920,1.0],[5935,0.99],[5950,1.0],[5965,0.99],[5980,0.995],[5995,0.985],[6010,0.995],[6025,0.99],[6040,1.0],[6055,0.99],[6070,1.0],[6085,0.99],[6100,0.995],[6115,0.99],[6130,1.0],[6145,0.99],[6160,1.0],[6175,0.995],[6190,1.005],[6205,0.995],[6220,1.0],[6235,0.995],[6250,1.005],[6265,1.0],[6280,1.01],[6292,1.02],[6298,1.0],[6310,1.005],[6325,0.995],[6340,1.0],[6355,0.99],[6370,0.995],[6385,0.99],[6400,0.995],[6415,0.985],[6430,0.995],[6445,0.99],[6460,0.995],[6475,0.985],[6490,0.99],[6505,0.985],[6520,0.99],[6535,0.985],[6550,0.99],[6558,0.975],[6563,1.01],[6568,0.985],[6580,0.99],[6600,0.985],[6620,0.99],[6640,0.985],[6660,0.99],[6680,0.985],[6700,0.99],[6720,0.98],[6740,0.985],[6760,0.98],[6780,0.985],[6800,0.98],[6820,0.985],[6840,0.98],[6855,0.99],[6862,1.05],[6868,1.2],[6874,1.1],[6880,1.03],[6888,0.99],[6900,0.975],[6915,0.965],[6930,0.975],[6945,0.965],[6960,0.97],[6975,0.96],[6990,0.975],[7005,0.965],[7020,0.97],[7035,0.96],[7050,0.975],[7065,0.955],[7080,0.97],[7095,0.945],[7105,0.975],[7120,0.96],[7135,0.975],[7150,0.955],[7160,0.99],[7168,0.935],[7175,1.0],[7182,1.06],[7188,1.02],[7195,1.08],[7202,0.99],[7210,1.05],[7218,0.97],[7225,1.04],[7232,0.96],[7240,1.06],[7248,1.0],[7255,1.09],[7263,1.0],[7270,1.07],[7278,0.98],[7285,1.04],[7292,1.0],[7300,1.06],[7308,1.02]];

// tick values
const xMajor = [4000, 5000, 6000, 7000, 8000, 9000];
const resMajor = [0.8, 0.9, 1.0, 1.1, 1.2];
const resLevels = [0.95, 1.0, 1.05];
const flux1Major = [0.2, 0.4, 0.6, 0.8, 1.0];
const flux2Major = [0.2, 0.4, 0.6, 0.8, 1.0, 1.2];
const flux3Major = [0.5, 1.0, 1.5, 2.0];

const stars = [
  ['HD023841', 'Teff=4292(K)', 'logg=1.30(dex)', 'feh=\u22120.95(dex)'],
  ['HD157214', 'Teff=5682(K)', 'logg=4.25(dex)', 'feh=\u22120.39(dex)'],
  ['HD107276', 'Teff=7972(K)', 'logg=4.21(dex)', 'feh=\u22120.05(dex)']
];

function steps(a, b, s) {
  const out = [];
  for (let v = a; v <= b + 1e-9; v += s) out.push(Math.round(v * 1000) / 1000);
  return out;
}
const xMinor = steps(3800, 9000, 100);

const FONT = 'DejaVu Sans';
const AX = '#444';

// panel layout
const panels = [
  { top: 10,  height: 202, min: 0.04,  max: 1.16,  major: flux1Major, minor: steps(0.05, 1.15, 0.05) },
  { top: 212, height: 101, min: 0.8,   max: 1.2,   major: resMajor,   minor: steps(0.8, 1.2, 0.01), res: true },
  { top: 313, height: 203, min: 0.184, max: 1.287, major: flux2Major, minor: steps(0.2, 1.25, 0.05) },
  { top: 516, height: 101, min: 0.8,   max: 1.2,   major: resMajor,   minor: steps(0.8, 1.2, 0.01), res: true },
  { top: 617, height: 202, min: 0.145, max: 2.04,  major: flux3Major, minor: steps(0.2, 2.0, 0.1) },
  { top: 819, height: 100, min: 0.8,   max: 1.2,   major: resMajor,   minor: steps(0.8, 1.2, 0.01), res: true }
];

const grid = [], xAxis = [], yAxis = [], series = [];

panels.forEach((p, g) => {
  grid.push({ left: 66, width: 538, top: p.top, height: p.height });
  const xb = { gridIndex: g, type: 'value', min: 3800, max: 9000, splitLine: { show: false } };
  const line = { show: true, onZero: false, lineStyle: { color: AX, width: 1 } };
  const noLine = { show: false, onZero: false };
  ['bottom', 'top'].forEach(pos => {
    xAxis.push(Object.assign({}, xb, {
      position: pos, axisLine: line,
      axisTick: { show: true, inside: true, length: 6, customValues: xMajor, lineStyle: { color: AX } },
      axisLabel: { show: g === 5 && pos === 'bottom', customValues: xMajor, margin: 9,
        fontSize: 15, fontFamily: FONT, color: '#000', formatter: v => String(Math.round(v)) }
    }));
    xAxis.push(Object.assign({}, xb, {
      position: pos, axisLine: noLine,
      axisTick: { show: true, inside: true, length: 3, customValues: xMinor, lineStyle: { color: AX } },
      axisLabel: { show: false }
    }));
  });
  const yb = { gridIndex: g, type: 'value', min: p.min, max: p.max, splitLine: { show: false } };
  ['left', 'right'].forEach(pos => {
    yAxis.push(Object.assign({}, yb, {
      position: pos, axisLine: line,
      axisTick: { show: true, inside: true, length: 6, customValues: p.major, lineStyle: { color: AX } },
      axisLabel: { show: pos === 'left', customValues: p.major, margin: 7, fontSize: 15,
        fontFamily: FONT, color: '#000', formatter: v => v.toFixed(1),
        verticalAlignMaxLabel: p.res ? 'top' : null }
    }));
    yAxis.push(Object.assign({}, yb, {
      position: pos, axisLine: noLine,
      axisTick: { show: true, inside: true, length: 3, customValues: p.minor, lineStyle: { color: AX } },
      axisLabel: { show: false }
    }));
  });
});

function lineSeries(g, data, color, extra) {
  return Object.assign({
    type: 'line', xAxisIndex: g * 4, yAxisIndex: g * 4, data: data,
    showSymbol: false, symbol: 'none', animation: false, clip: true,
    lineStyle: { color: color, width: 1 }
  }, extra || {});
}
const black = 'rgba(0,0,0,0.85)';
const red = '#ff0000';
const resLines = {
  markLine: {
    silent: true, symbol: ['none', 'none'], label: { show: false }, animation: false,
    lineStyle: { color: '#ff2a2a', width: 1.6, type: 'solid' },
    data: resLevels.map(v => ({ yAxis: v }))
  }
};
series.push(lineSeries(0, obs1, black), lineSeries(0, mod1, red));
series.push(lineSeries(1, res1, black, resLines));
series.push(lineSeries(2, obs2, black), lineSeries(2, mod2, red));
series.push(lineSeries(3, res2, black, resLines));
series.push(lineSeries(4, obs3, black), lineSeries(4, mod3, red));
series.push(lineSeries(5, res3, black, resLines));

// text: star labels and axis names
const graphic = [];
const labelY = [[116.7, 136.7, 156.7, 176.7], [348, 368, 388, 408], [650, 670, 690, 710]];
stars.forEach((lines, i) => {
  lines.forEach((t, j) => {
    graphic.push({ type: 'text', x: 572, y: labelY[i][j], silent: true,
      style: { text: t, font: '16px "' + FONT + '"', fill: '#000',
        textAlign: 'right', textVerticalAlign: 'middle', align: 'right', verticalAlign: 'middle' } });
  });
});
const names = [
  ['Relative flux', 111], ['Frational residual', 262.5],
  ['Relative flux', 414.5], ['Frational residual', 566.5],
  ['Relative flux', 718], ['Fractional residual', 869]
];
names.forEach(n => {
  graphic.push({ type: 'text', x: 17, y: n[1], rotation: Math.PI / 2, silent: true,
    style: { text: n[0], font: '15.5px "' + FONT + '"', fill: '#000',
      textAlign: 'center', textVerticalAlign: 'middle', align: 'center', verticalAlign: 'middle' } });
});
graphic.push({ type: 'text', x: 335, y: 958, silent: true,
  style: { text: 'Wavelength(\u00c5)', font: '14.5px "' + FONT + '"', fill: '#000',
    textAlign: 'center', textVerticalAlign: 'middle', align: 'center', verticalAlign: 'middle' } });

const chart = echarts.init(document.getElementById('chart'));
chart.setOption({
  animation: false,
  backgroundColor: '#fff',
  textStyle: { fontFamily: FONT },
  grid: grid,
  xAxis: xAxis,
  yAxis: yAxis,
  series: series,
  graphic: graphic
});
</script>
</body>
</html>
